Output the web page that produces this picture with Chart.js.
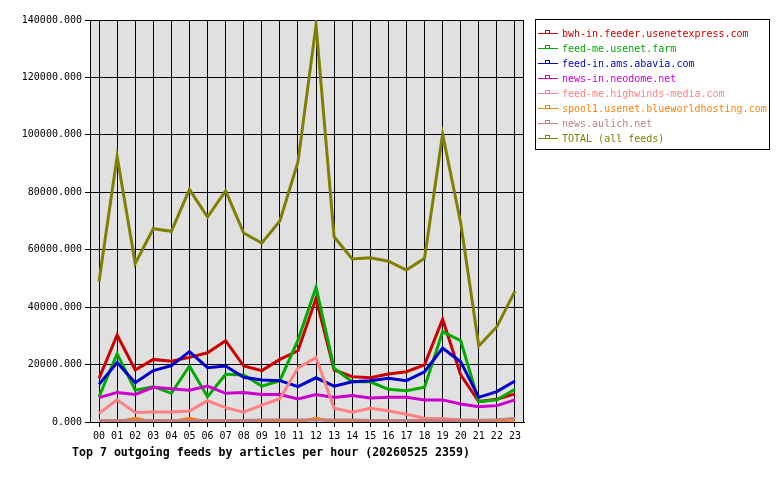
<!DOCTYPE html>
<html>
<head>
<meta charset="utf-8">
<script src="https://cdn.jsdelivr.net/npm/chart.js"></script>
<style>
  html, body { margin: 0; padding: 0; background: #fff; }
  #wrap { position: relative; width: 780px; height: 480px; }
  #legend {
    position: absolute; left: 535px; top: 19px; width: 235px; height: 131px;
    border: 1px solid #000; box-sizing: border-box;
    font: 10px "DejaVu Sans Mono", monospace;
  }
  .item { position: absolute; left: 2px; height: 15px; line-height: 15px; white-space: nowrap; }
  .sym { position: absolute; left: 0; top: 7px; width: 20px; height: 0; border-top: 1px solid; }
  .sym i { position: absolute; left: 7px; top: -4px; width: 3px; height: 2px; border: 1px solid; border-bottom: none; }
  .txt { position: absolute; left: 24px; top: 0; }
  #title {
    position: absolute; left: 72px; top: 445px;
    font: bold 11.6px "DejaVu Sans Mono", monospace; line-height: 14px; color: #000;
  }
</style>
</head>
<body>
<div id="wrap">
  <canvas id="chart" width="780" height="480"></canvas>
  <div id="legend"></div>
  <div id="title">Top 7 outgoing feeds by articles per hour (20260525 2359)</div>
</div>
<script>
const hours = ['00','01','02','03','04','05','06','07','08','09','10','11','12','13','14','15','16','17','18','19','20','21','22','23'];

const feedNames = [
   'bwh-in.feeder.usenetexpress.com',
   'feed-me.usenet.farm',
   'feed-in.ams.abavia.com',
   'news-in.neodome.net',
   'feed-me.highwinds-media.com',
   'spool1.usenet.blueworldhosting.com',
   'news.aulich.net',
   'TOTAL (all feeds)'
];

const bwhIn     = [15200, 30300, 18100, 21800, 21200, 22500, 24100, 28300, 19500, 17900, 21800, 24800, 43000, 18100, 15800, 15400, 16700, 17500, 19900, 35800, 16400, 7100, 7900, 9800];
const usenetFarm = [8800, 23700, 11100, 12300, 10000, 19500, 8800, 16600, 16400, 12500, 14400, 28500, 46900, 18700, 14000, 14000, 11400, 10900, 12100, 31500, 28300, 7100, 7700, 11400];
const abavia    = [13100, 20700, 13700, 17900, 19600, 24500, 18900, 19500, 15600, 14600, 14400, 12300, 15400, 12500, 14000, 14400, 15200, 14400, 17500, 25700, 21000, 8600, 10600, 14300];
const neodome   = [8500, 10300, 9600, 12100, 11600, 11100, 12500, 10000, 10300, 9600, 9600, 8000, 9600, 8500, 9200, 8400, 8600, 8600, 7700, 7700, 6300, 5300, 5700, 7700];
const highwinds = [3000, 7700, 3300, 3500, 3500, 3800, 7400, 5000, 3400, 5900, 8100, 18800, 22500, 4800, 3400, 4800, 3900, 2700, 1300, 1100, 800, 600, 600, 1200];
const spool1    = [0, 0, 1300, 0, 0, 1300, 0, 0, 0, 0, 0, 0, 1300, 0, 0, 0, 0, 0, 0, 0, 0, 0, 0, 0];
const aulich    = [500, 500, 500, 500, 500, 500, 500, 500, 500, 700, 700, 700, 700, 700, 700, 500, 500, 500, 500, 500, 500, 500, 700, 1200];
const total     = [48900, 92500, 55200, 67300, 66400, 81000, 71400, 80500, 65800, 62300, 70000, 90600, 138200, 64500, 56800, 57200, 56000, 52900, 57000, 100200, 69300, 26500, 33200, 45600];

const yTicks = [0, 20000, 40000, 60000, 80000, 100000, 120000, 140000];

const series = [bwhIn, usenetFarm, abavia, neodome, highwinds, spool1, aulich, total];
const colors = ['#cc0000', '#00aa00', '#0000cc', '#cc00cc', '#ff8080', '#ff8000', '#c08080', '#808000'];

const font = { family: "'DejaVu Sans Mono', monospace", size: 10 };

// grey plot area + black frame
const plotArea = {
   id: 'plotArea',
   beforeDraw(chart) {
      const a = chart.chartArea, c = chart.ctx;
      c.save();
      c.fillStyle = '#e0e0e0';
      c.fillRect(a.left, a.top, a.right - a.left, a.bottom - a.top);
      c.restore();
   },
   beforeDatasetsDraw(chart) {
      const a = chart.chartArea, c = chart.ctx;
      c.save();
      c.strokeStyle = '#000';
      c.lineWidth = 1;
      c.strokeRect(Math.round(a.left) + 0.5, Math.round(a.top) + 0.5, Math.round(a.right - a.left) - 1, Math.round(a.bottom - a.top));
      c.restore();
   }
};

const ctx = document.getElementById('chart').getContext('2d');
new Chart(ctx, {
   type: 'line',
   data: {
      labels: hours,
      datasets: series.map((d, i) => ({
         label: feedNames[i],
         data: d,
         borderColor: colors[i],
         backgroundColor: colors[i],
         borderWidth: 3,
         pointRadius: 0,
         tension: 0,
         fill: false,
         order: series.length - i
      }))
   },
   options: {
      responsive: false,
      animation: false,
      layout: { padding: { left: 0, top: 20, right: 256, bottom: 0 } },
      plugins: {
         legend: { display: false },
         tooltip: { enabled: false }
      },
      scales: {
         x: {
            offset: true,
            grid: { offset: false, color: '#000', lineWidth: 1, tickLength: 5, tickColor: '#000' },
            border: { color: '#000' },
            ticks: { color: '#000', font: font, padding: 3, maxRotation: 0, autoSkip: false },
            afterFit: (s) => { s.height = 58; }
         },
         y: {
            min: 0,
            max: 140000,
            afterBuildTicks: (s) => { s.ticks = yTicks.map(v => ({ value: v })); },
            grid: { color: '#000', lineWidth: 1, tickLength: 5, tickColor: '#000' },
            border: { color: '#000' },
            ticks: { color: '#000', font: font, padding: 3, callback: (v) => Number(v).toFixed(3) },
            afterFit: (s) => { s.width = 90; }
         }
      }
   },
   plugins: [plotArea]
});

// legend box
const legend = document.getElementById('legend');
feedNames.forEach((name, i) => {
   const row = document.createElement('div');
   row.className = 'item';
   row.style.top = (6 + i * 15) + 'px';
   const sym = document.createElement('span');
   sym.className = 'sym';
   sym.style.borderTopColor = colors[i];
   const mark = document.createElement('i');
   mark.style.borderColor = colors[i];
   sym.appendChild(mark);
   const txt = document.createElement('span');
   txt.className = 'txt';
   txt.style.color = colors[i];
   txt.textContent = name;
   row.appendChild(sym);
   row.appendChild(txt);
   legend.appendChild(row);
});
</script>
</body>
</html>
